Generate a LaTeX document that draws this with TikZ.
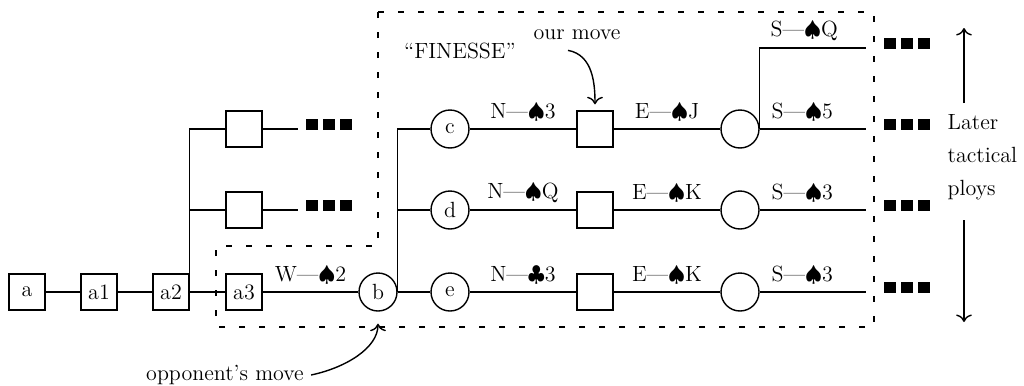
\documentclass[tikz,border=0pt]{standalone}
\usepackage{fontspec}
\usepackage{xcolor}
\usepackage{tikz}
\usetikzlibrary{arrows.meta,calc}

\newcommand{\trio}{\rule{6pt}{5.5pt}\hspace{2.5pt}\rule{6pt}{5.5pt}\hspace{2.5pt}\rule{6pt}{5.5pt}}

\begin{document}
\begin{tikzpicture}[x=0.5pt,y=-0.5pt,line width=0.7pt,
    font=\fontsize{11}{13}\selectfont,
    box/.style={draw,minimum size=18pt,inner sep=1pt},
    ring/.style={draw,circle,minimum size=19pt,inner sep=1pt},
    play/.style={above,midway},
    trio/.style={anchor=west,inner sep=0pt},
    region/.style={dash pattern=on 3pt off 7pt},
    >={To[scale=1.2]}]
    \useasboundingbox (0,0) rectangle (1024,386);

    % Opening moves
    \node[box] (a)  at (27,292)  {a};
    \node[box] (a1) at (99,292)  {a1};
    \node[box] (a2) at (171,292) {a2};
    \node[box] (a3) at (244,292) {a3};
    \draw (a) -- (a1) -- (a2) -- (a3);

    % Other lines of play
    \node[box] (u1) at (244,129) {};
    \node[box] (u2) at (244,210) {};
    \draw (a2.north east) |- (u1);
    \draw (a2.north east) |- (u2);
    \coordinate (u1end) at (298,129);
    \coordinate (u2end) at (298,210);
    \draw (u1) -- (u1end);
    \draw (u2) -- (u2end);
    \node[trio] (u1more) at (305,124.5) {\trio};
    \node[trio] (u2more) at (305,205.5) {\trio};

    % Opponent leads
    \node[ring] (b) at (378,292) {b};
    \draw (a3) -- node[play] {W—$\spadesuit$2} (b);

    % Our replies
    \node[ring] (c) at (450,129) {c};
    \node[ring] (d) at (450,210) {d};
    \node[ring] (e) at (450,292) {e};
    \draw (b.east) |- (c);
    \draw (b.east) |- (d);
    \draw (b) -- (e);

    \node[box] (sc) at (595,129) {};
    \node[box] (sd) at (595,210) {};
    \node[box] (se) at (595,292) {};
    \draw (c) -- node[play] {N—$\spadesuit$3} (sc);
    \draw (d) -- node[play] {N—$\spadesuit$Q} (sd);
    \draw (e) -- node[play] {N—$\clubsuit$3} (se);

    \node[ring] (oc) at (740,129) {};
    \node[ring] (od) at (740,210) {};
    \node[ring] (oe) at (740,292) {};
    \draw (sc) -- node[play] {E—$\spadesuit$J} (oc);
    \draw (sd) -- node[play] {E—$\spadesuit$K} (od);
    \draw (se) -- node[play] {E—$\spadesuit$K} (oe);

    % Last card of the trick
    \coordinate (endq) at (866,48);
    \coordinate (endc) at (866,129);
    \coordinate (endd) at (866,210);
    \coordinate (ende) at (866,292);
    \draw (oc.east) |- node[play,pos=.71] {S—$\spadesuit$Q} (endq);
    \draw (oc) -- node[play,pos=.4] {S—$\spadesuit$5} (endc);
    \draw (od) -- node[play,pos=.4] {S—$\spadesuit$3} (endd);
    \draw (oe) -- node[play,pos=.4] {S—$\spadesuit$3} (ende);
    \node[trio] (qmore) at (883,43.5)  {\trio};
    \node[trio] (cmore) at (883,124.5) {\trio};
    \node[trio] (dmore) at (883,205.5) {\trio};
    \node[trio] (emore) at (883,287.5) {\trio};

    % Tactical region
    \draw[region] (378,12) -- (874,12) -- (874,327) -- (216,327) -- (216,246) -- (378,246) -- cycle;

    % Annotations
    \node (finesse) at (460,51) {“FINESSE”};
    \node (ourmove) at (577,35) {our move};
    \draw[->,shorten >=3pt] ($(ourmove.south)+(-9,3)$) to[out=-10,in=90] (sc.north);
    \node (opp) at (225,375) {opponent’s move};
    \draw[->,shorten >=6pt] (opp.east) to[out=12,in=-90] (b.south);

    % Later ploys
    \node[anchor=base west,inner sep=0pt] (later) at (947,129) {Later};
    \node[anchor=base west,inner sep=0pt] (tactical) at (947,162) {tactical};
    \node[anchor=base west,inner sep=0pt] (ploys) at (947,195) {ploys};
    \coordinate (upfrom) at (964,103);
    \coordinate (upto) at (964,28);
    \coordinate (dnfrom) at (964,220);
    \coordinate (dnto) at (964,322);
    \draw[->] (upfrom) -- (upto);
    \draw[->] (dnfrom) -- (dnto);
\end{tikzpicture}
\end{document}
